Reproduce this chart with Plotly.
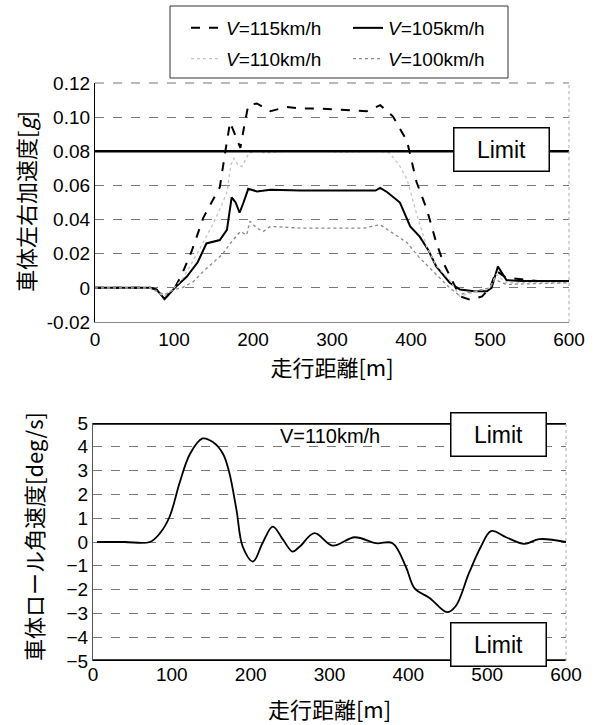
import plotly.graph_objects as go

# ---------------- data: lateral acceleration (top) ----------------
x115 = [0, 70, 78, 88, 95, 101, 110, 122, 137, 150, 158, 165, 171, 177, 184, 189, 194, 205, 222, 243, 259, 285, 320, 344, 361, 377, 395, 407, 420, 432, 441, 452, 462, 475, 490, 500, 508, 520, 540, 560, 600]
y115 = [0, 0, -0.001, -0.0065, -0.003, 0.0, 0.008, 0.021, 0.041, 0.052, 0.059, 0.08, 0.097, 0.09, 0.082, 0.095, 0.107, 0.108, 0.1035, 0.106, 0.105, 0.105, 0.104, 0.1035, 0.107, 0.1005, 0.086, 0.062, 0.046, 0.0265, 0.0147, 0.004, -0.005, -0.007, -0.005, 0.0, 0.010, 0.006, 0.005, 0.004, 0.004]

x105 = [0, 70, 78, 88, 95, 101, 116, 130, 141, 158, 167, 173, 178, 183, 188, 194, 205, 222, 260, 300, 340, 355, 361, 370, 386, 399, 411, 422, 432, 449, 462, 480, 496, 502, 510, 521, 540, 600]
y105 = [0, 0, -0.001, -0.0065, -0.003, 0.0, 0.0065, 0.015, 0.026, 0.028, 0.034, 0.053, 0.05, 0.044, 0.05, 0.058, 0.0565, 0.0575, 0.057, 0.057, 0.057, 0.057, 0.0585, 0.056, 0.050, 0.036, 0.030, 0.022, 0.0125, 0.003, -0.001, -0.002, -0.002, 0.0, 0.0125, 0.0045, 0.004, 0.004]

x110 = [0, 70, 88, 100, 110, 122, 135, 150, 160, 167, 172, 176, 181, 186, 195, 205, 215, 240, 280, 320, 360, 373, 385, 395, 408, 420, 432, 449, 462, 475, 490, 500, 508, 520, 540, 600]
y110 = [0, 0, -0.005, 0.0, 0.005, 0.014, 0.025, 0.038, 0.048, 0.056, 0.072, 0.076, 0.072, 0.071, 0.079, 0.08, 0.079, 0.08, 0.08, 0.0795, 0.08, 0.079, 0.072, 0.0635, 0.042, 0.024, 0.013, 0.0045, -0.005, -0.003, -0.001, 0.0, 0.008, 0.003, 0.003, 0.003]

x100 = [0, 70, 88, 100, 110, 124, 138, 150, 162, 171, 184, 192, 196, 205, 213, 222, 260, 300, 340, 361, 377, 395, 410, 432, 449, 460, 480, 500, 506, 520, 600]
y100 = [0, 0, -0.004, -0.001, 0.0, 0.0035, 0.01, 0.015, 0.02, 0.026, 0.033, 0.031, 0.039, 0.035, 0.033, 0.036, 0.035, 0.035, 0.035, 0.037, 0.032, 0.0265, 0.018, 0.008, 0.0, -0.004, -0.002, 0.0, 0.005, 0.002, 0.003]

acc_limit_x = [0, 600]
acc_limit_y = [0.08, 0.08]

acc_tickvals = [-0.02, 0, 0.02, 0.04, 0.06, 0.08, 0.10, 0.12]
acc_ticktext = ["-0.02", "0", "0.02", "0.04", "0.06", "0.08", "0.10", "0.12"]

# ---------------- data: roll rate (bottom) ----------------
xroll = [5, 40, 72, 85, 97, 110, 123, 139, 152, 165, 173, 182, 190, 203, 215, 228, 241, 253, 262, 281, 304, 332, 359, 380, 397, 408, 427, 449, 460, 477, 492, 505, 524, 547, 566, 600]
yroll = [0, 0, 0, 0.37, 1.05, 2.5, 3.7, 4.35, 4.2, 3.7, 2.9, 1.35, -0.2, -0.82, -0.05, 0.65, 0.1, -0.4, -0.2, 0.37, -0.15, 0.2, -0.05, -0.05, -1.05, -1.95, -2.35, -2.95, -2.7, -1.3, -0.2, 0.46, 0.2, -0.08, 0.12, 0.0]

roll_limit_x = [0, 600]
roll_limit_up = [5, 5]
roll_limit_lo = [-5, -5]

roll_tickvals = [-5, -4, -3, -2, -1, 0, 1, 2, 3, 4, 5]
x_tickvals = [0, 100, 200, 300, 400, 500, 600]

LAT = "Liberation Sans, Arial, sans-serif"
JP = "Noto Sans CJK JP, sans-serif"

fig = go.Figure()

# legend column 1: V=115, V=110 ; column 2: V=105, V=100
fig.add_trace(go.Scatter(x=x115, y=y115, mode="lines", name="<i>V</i>=115km/h", legend="legend",
                         legendgroup="a", legendrank=1,
                         line=dict(color="black", width=2, dash="dash"), xaxis="x", yaxis="y"))
fig.add_trace(go.Scatter(x=x105, y=y105, mode="lines", name="<i>V</i>=105km/h", legend="legend2",
                         legendgroup="b", legendrank=1,
                         line=dict(color="black", width=2), xaxis="x", yaxis="y"))
fig.add_trace(go.Scatter(x=x110, y=y110, mode="lines", name="<i>V</i>=110km/h", legend="legend",
                         legendgroup="c", legendrank=2,
                         line=dict(color="#c4c4c4", width=1.3, dash="dot"), xaxis="x", yaxis="y"))
fig.add_trace(go.Scatter(x=x100, y=y100, mode="lines", name="<i>V</i>=100km/h", legend="legend2",
                         legendgroup="d", legendrank=2,
                         line=dict(color="#8a8a8a", width=1.3, dash="dot"), xaxis="x", yaxis="y"))
fig.add_trace(go.Scatter(x=acc_limit_x, y=acc_limit_y, mode="lines", showlegend=False,
                         line=dict(color="black", width=2.5), xaxis="x", yaxis="y"))

fig.add_trace(go.Scatter(x=roll_limit_x, y=roll_limit_up, mode="lines", showlegend=False,
                         line=dict(color="black", width=3.5), xaxis="x2", yaxis="y2", cliponaxis=False))
fig.add_trace(go.Scatter(x=roll_limit_x, y=roll_limit_lo, mode="lines", showlegend=False,
                         line=dict(color="black", width=3.5), xaxis="x2", yaxis="y2", cliponaxis=False))
fig.add_trace(go.Scatter(x=xroll, y=yroll, mode="lines", showlegend=False, line_shape="spline",
                         line=dict(color="black", width=1.8), xaxis="x2", yaxis="y2"))

W, H = 600, 725
TICKF = dict(family=LAT, size=19, color="black")
TITLEF = dict(family=JP, size=22, color="black")
LEGF = dict(family=LAT, size=19, color="black")

leg_common = dict(orientation="v", yanchor="top", y=1 - 9 / H, xanchor="left",
                  bgcolor="rgba(0,0,0,0)", borderwidth=0, font=LEGF, tracegroupgap=3)

fig.update_layout(
    template="none",
    width=W, height=H, margin=dict(l=0, r=0, t=0, b=0, autoexpand=False),
    paper_bgcolor="white", plot_bgcolor="white",
    showlegend=True,
    legend=dict(x=186 / W, **leg_common),
    legend2=dict(x=348 / W, **leg_common),
    xaxis=dict(domain=[95 / W, 569 / W], range=[0, 600], anchor="y", automargin=False,
               tickvals=x_tickvals, showline=True, linecolor="#888", linewidth=1,
               showgrid=False, zeroline=False, ticks="", tickfont=TICKF,
               title=dict(text="走行距離[m]", font=TITLEF, standoff=8)),
    yaxis=dict(domain=[1 - 322 / H, 1 - 83 / H], range=[-0.02, 0.12], anchor="x", automargin=False,
               tickvals=acc_tickvals, ticktext=acc_ticktext,
               showline=True, linecolor="black", linewidth=1.2, zeroline=False, ticks="", tickfont=TICKF,
               showgrid=True, gridcolor="#777", griddash="dash", gridwidth=1),
    xaxis2=dict(domain=[93 / W, 566 / W], range=[0, 600], anchor="y2", automargin=False,
                tickvals=x_tickvals, showline=False,
                showgrid=False, zeroline=False, ticks="", tickfont=TICKF,
                title=dict(text="走行距離[m]", font=TITLEF, standoff=18)),
    yaxis2=dict(domain=[1 - 661 / H, 1 - 423 / H], range=[-5, 5], anchor="x2", automargin=False,
                tickvals=roll_tickvals, showline=True, linecolor="#555", linewidth=1,
                zeroline=False, ticks="", tickfont=TICKF,
                showgrid=True, gridcolor="#777", griddash="dash", gridwidth=1),
)

# y-axis titles
fig.add_annotation(text="車体左右加速度[<i>g</i>]", xref="paper", yref="paper", x=25 / W, y=1 - 202 / H,
                   xanchor="center", yanchor="middle", textangle=-90, showarrow=False, font=TITLEF)
fig.add_annotation(text="車体ロール角速度[deg/s]", xref="paper", yref="paper", x=33 / W, y=1 - 537 / H,
                   xanchor="center", yanchor="middle", textangle=-90, showarrow=False, font=TITLEF)

# legend frame
fig.add_shape(type="rect", xref="paper", yref="paper", x0=170 / W, x1=508 / W, y0=1 - 78 / H, y1=1 - 6 / H,
              line=dict(color="#333", width=1), fillcolor="rgba(0,0,0,0)", layer="below")

# top dashed border of upper chart and light dotted right borders
fig.add_shape(type="line", xref="x domain", yref="y domain", x0=0, x1=1, y0=1, y1=1,
              line=dict(color="#777", width=1, dash="dash"))
fig.add_shape(type="line", xref="x domain", yref="y domain", x0=1, x1=1, y0=0, y1=1,
              line=dict(color="#aaa", width=1, dash="dot"))
fig.add_shape(type="line", xref="x2 domain", yref="y2 domain", x0=1, x1=1, y0=0, y1=1,
              line=dict(color="#aaa", width=1, dash="dot"))

box = dict(font=dict(family=LAT, size=23, color="black"), bgcolor="white",
           bordercolor="black", borderwidth=1.5, showarrow=False, width=92, height=40)
fig.add_annotation(x=515, y=0.0812, xref="x", yref="y", text="Limit", **box)
fig.add_annotation(x=514, y=4.52, xref="x2", yref="y2", text="Limit", **box)
fig.add_annotation(x=514, y=-4.3, xref="x2", yref="y2", text="Limit", **box)
fig.add_annotation(x=301, y=4.45, xref="x2", yref="y2", text="V=110km/h", showarrow=False,
                   font=dict(family=LAT, size=20, color="black"))

fig.write_html("out.html")
